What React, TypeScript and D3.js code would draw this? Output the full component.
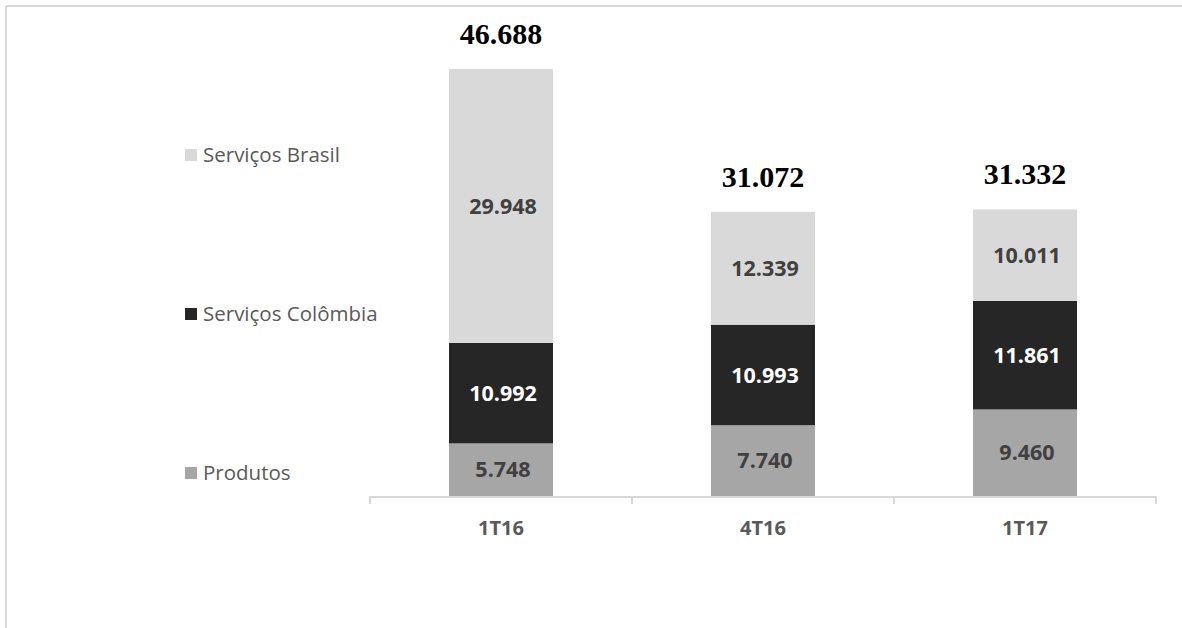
import React from "react";
import * as d3 from "d3";

const categories = ["1T16", "4T16", "1T17"];
const seriesNames = ["Produtos", "Serviços Colômbia", "Serviços Brasil"];
const produtos = [5748, 7740, 9460];
const servicosColombia = [10992, 10993, 11861];
const servicosBrasil = [29948, 12339, 10011];
const totals = [46688, 31072, 31332];
const seriesColors = ["#a6a6a6", "#262626", "#d9d9d9"];
const labelColors = ["#404040", "#ffffff", "#404040"];

const W = 1182;
const H = 628;

function fmt(v: number) {
  return d3.format(",")(v).replace(/,/g, ".");
}

export default function App() {
  const baseY = 496;
  const y = d3.scaleLinear().domain([0, 46688]).range([baseY, 69]);
  const x = d3.scaleBand().domain(categories).range([370, 1156]).paddingInner(0).paddingOuter(0);
  const barW = 104;
  const seriesVals = [produtos, servicosColombia, servicosBrasil];
  const rows = categories.map((c, i) => {
    const o: any = { cat: c };
    seriesNames.forEach((s, k) => (o[s] = seriesVals[k][i]));
    return o;
  });
  const stacked = d3.stack<any>().keys(seriesNames)(rows);

  const legendY = [473, 314, 155];

  return (
    <div style={{ position: "fixed", left: 0, top: 0 }}>
      <svg width={W} height={H} style={{ display: "block", background: "#fff" }}>
        <line x1={6} y1={6} x2={W} y2={6} stroke="#d9d9d9" strokeWidth={2} />
        <line x1={6} y1={6} x2={6} y2={H} stroke="#d9d9d9" strokeWidth={2} />
        {stacked.map((layer, k) => (
          <g key={layer.key}>
            {layer.map((d, i) => {
              const cx = (x(categories[i]) as number) + x.bandwidth() / 2;
              const y0 = y(d[0]);
              const y1 = y(d[1]);
              return (
                <g key={i}>
                  <rect x={cx - barW / 2} y={y1} width={barW} height={y0 - y1} fill={seriesColors[k]} />
                  <text
                    x={cx + 2}
                    y={(y0 + y1) / 2}
                    dy="0.36em"
                    textAnchor="middle"
                    fontFamily="'Open Sans', sans-serif"
                    fontWeight={700}
                    fontSize={21.5}
                    fill={labelColors[k]}
                  >
                    {fmt(d.data[seriesNames[k]])}
                  </text>
                </g>
              );
            })}
          </g>
        ))}
        {/* axis */}
        <line x1={370} y1={baseY + 1} x2={1156} y2={baseY + 1} stroke="#d9d9d9" strokeWidth={2} />
        {[...categories.map((c) => x(c) as number), 1156].map((tx, i) => (
          <line key={i} x1={tx} y1={baseY} x2={tx} y2={baseY + 8} stroke="#d9d9d9" strokeWidth={2} />
        ))}
        {categories.map((c) => (
          <text
            key={c}
            x={(x(c) as number) + x.bandwidth() / 2}
            y={535}
            textAnchor="middle"
            fontFamily="'Open Sans', sans-serif"
            fontWeight={700}
            fontSize={20}
            fill="#595959"
          >
            {c}
          </text>
        ))}
        {totals.map((t, i) => (
          <text
            key={i}
            x={(x(categories[i]) as number) + x.bandwidth() / 2}
            y={y(t) - 25}
            textAnchor="middle"
            fontFamily="'Liberation Serif', 'Times New Roman', serif"
            fontWeight={700}
            fontSize={30}
            fill="#000"
          >
            {fmt(t)}
          </text>
        ))}
        {seriesNames.map((s, k) => (
          <g key={s}>
            <rect x={185} y={legendY[k] - 6} width={12} height={12} fill={seriesColors[k]} />
            <text
              x={203}
              y={legendY[k]}
              dy="0.36em"
              fontFamily="'Open Sans', sans-serif"
              fontSize={20.5}
              fill="#595959"
            >
              {s}
            </text>
          </g>
        ))}
      </svg>
    </div>
  );
}
